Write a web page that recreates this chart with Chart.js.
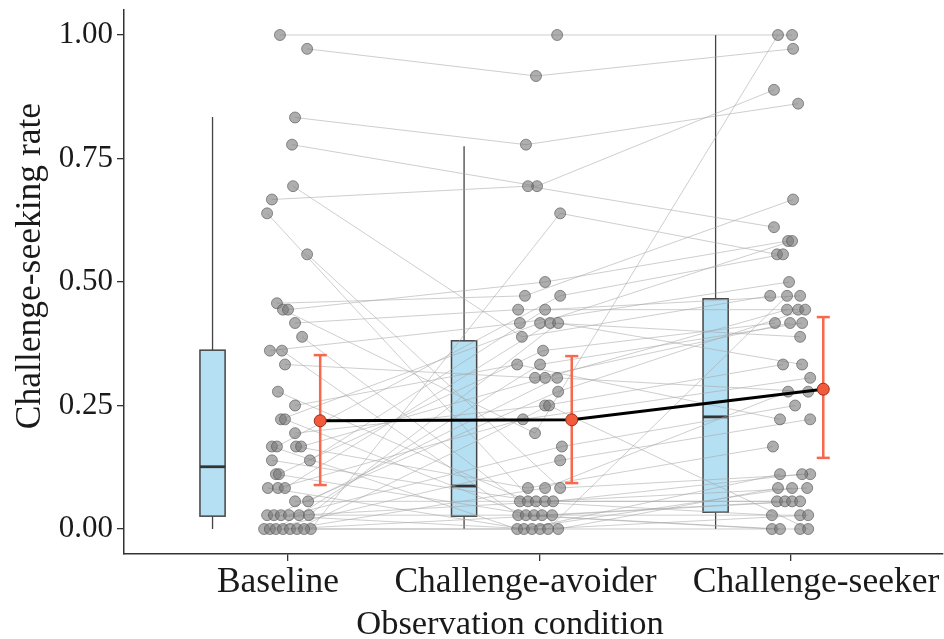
<!DOCTYPE html>
<html><head><meta charset="utf-8">
<script src="https://cdn.jsdelivr.net/npm/chart.js@4.4.1/dist/chart.umd.min.js"></script>
<style>html,body{margin:0;padding:0;background:#fff;overflow:hidden;}#wrap{width:944px;height:639px;}canvas{display:block;}</style>
</head><body><div id="wrap"><canvas id="c" width="944" height="639"></canvas></div>
<script>
const categories = ['Baseline', 'Challenge-avoider', 'Challenge-seeker'];
const yTicks = [0, 0.25, 0.5, 0.75, 1.0];
const yTitle = 'Challenge-seeking rate';
const xTitle = 'Observation condition';

// per-participant rates (same order in every condition)
const baselineValues = [1.000,0.972,0.833,0.778,0.667,0.694,0.639,0.556,0.000,0.457,0.444,0.444,0.417,0.389,0.361,0.361,0.333,0.278,0.250,0.222,0.222,0.194,0.167,0.167,0.167,0.167,0.139,0.139,0.111,0.111,0.083,0.083,0.083,0.056,0.056,0.028,0.028,0.028,0.028,0.028,0.028,0.000,0.000,0.000,0.000,0.000,0.000,0.000];
const avoiderValues  = [1.000,0.917,0.778,0.694,0.694,0.389,0.000,0.083,0.639,0.472,0.194,0.500,0.444,0.056,0.417,0.028,0.306,0.056,0.333,0.417,0.028,0.250,0.000,0.472,0.083,0.306,0.056,0.444,0.028,0.361,0.000,0.222,0.417,0.056,0.306,0.000,0.278,0.028,0.167,0.056,0.417,0.000,0.139,0.333,0.028,0.083,0.250,0.000];
const seekerValues   = [1.000,0.972,0.861,0.889,0.611,0.472,0.083,0.111,0.556,0.667,1.000,0.583,0.444,0.028,0.500,0.000,0.417,0.056,0.222,0.583,0.000,0.333,0.083,0.556,0.167,0.444,0.056,0.472,0.028,0.417,0.111,0.306,0.389,0.083,0.278,0.000,0.444,0.056,0.250,0.111,0.333,0.028,0.222,0.417,0.056,0.278,0.000,0.472];
// horizontal jitter of each point (axis units)
const baselineJitter = [-0.032,0.076,0.028,0.016,-0.064,0.020,-0.083,0.076,0.091,-0.044,-0.020,0.000,0.028,0.056,-0.072,-0.024,-0.012,-0.040,0.028,-0.028,-0.012,0.028,-0.064,-0.044,0.032,0.052,-0.064,0.087,-0.048,-0.036,-0.080,-0.040,-0.012,0.028,0.080,-0.083,-0.056,-0.028,0.004,0.044,0.083,-0.095,-0.072,-0.048,-0.020,0.008,0.036,0.064];
const avoiderJitter  = [0.070,-0.014,-0.054,-0.010,-0.046,-0.070,0.074,0.082,0.082,-0.058,-0.018,0.022,-0.085,-0.078,-0.078,-0.085,-0.018,-0.046,-0.089,0.002,-0.054,0.022,-0.089,0.082,-0.046,0.022,-0.014,0.022,-0.022,0.014,-0.062,-0.066,0.042,0.022,0.070,-0.030,0.074,0.010,0.089,0.054,0.074,0.002,0.082,0.002,0.050,0.022,0.038,0.034];
const seekerJitter   = [0.004,0.008,0.028,-0.068,-0.068,-0.083,-0.052,0.076,-0.056,0.008,-0.052,-0.012,0.028,-0.076,-0.008,-0.076,-0.004,-0.056,-0.044,0.004,-0.044,-0.032,0.004,-0.032,-0.072,-0.016,-0.024,0.036,0.036,-0.064,-0.044,0.076,0.036,0.064,0.068,0.036,0.056,0.004,0.016,0.044,0.044,0.068,0.076,0.044,0.036,-0.012,0.068,-0.016];

// boxplot statistics per condition
const boxLow    = [0.000, 0.000, 0.000];
const boxQ1     = [0.026, 0.026, 0.034];
const boxMedian = [0.126, 0.087, 0.227];
const boxQ3     = [0.362, 0.381, 0.466];
const boxHigh   = [0.834, 0.775, 1.000];
// mean and error bars per condition
const meanValues = [0.219, 0.221, 0.283];
const errLow     = [0.089, 0.093, 0.144];
const errHigh    = [0.352, 0.350, 0.429];

// layout (style) constants
const BOX_OFFSET = -0.30, BOX_HALF = 0.05, MEAN_OFFSET = 0.128, CAP_HALF = 0.026;
const SERIF = "'Liberation Serif', 'Times New Roman', serif";
const LABEL_SHIFT = [-10, -14, 25];

const valueSets = [baselineValues, avoiderValues, seekerValues];
const jitterSets = [baselineJitter, avoiderJitter, seekerJitter];

const datasets = [];
// participant connecting lines
for (let i = 0; i < baselineValues.length; i++) {
  datasets.push({type: 'line', data: valueSets.map((vals, k) => ({x: k + 1 + jitterSets[k][i], y: vals[i]})),
    borderColor: 'rgba(165,165,165,0.55)', borderWidth: 1, pointRadius: 0, fill: false, tension: 0, order: 10});
}
// participant points
valueSets.forEach((vals, k) => {
  datasets.push({type: 'scatter', data: vals.map((v, i) => ({x: k + 1 + jitterSets[k][i], y: v})),
    backgroundColor: 'rgba(120,120,120,0.6)', borderColor: 'rgba(80,80,80,0.6)', borderWidth: 1, pointRadius: 5.5, order: 6});
});
// mean line
datasets.push({type: 'line', data: meanValues.map((m, k) => ({x: k + 1 + MEAN_OFFSET, y: m})),
  borderColor: '#000', borderWidth: 3, pointRadius: 0, fill: false, order: 4});
// error bars with caps
meanValues.forEach((m, k) => {
  const xm = k + 1 + MEAN_OFFSET;
  const seg = (pts) => datasets.push({type: 'line', data: pts, borderColor: '#f7684c', borderWidth: 2.5, pointRadius: 0, fill: false, order: 3});
  seg([{x: xm, y: errLow[k]}, {x: xm, y: errHigh[k]}]);
  seg([{x: xm - CAP_HALF, y: errHigh[k]}, {x: xm + CAP_HALF, y: errHigh[k]}]);
  seg([{x: xm - CAP_HALF, y: errLow[k]}, {x: xm + CAP_HALF, y: errLow[k]}]);
});
// mean points
datasets.push({type: 'scatter', data: meanValues.map((m, k) => ({x: k + 1 + MEAN_OFFSET, y: m})),
  backgroundColor: '#f25a3c', borderColor: '#9c2f1c', borderWidth: 1, pointRadius: 6, order: 1});

const boxPlugin = {
  id: 'boxes',
  beforeDatasetsDraw(chart) {
    const {ctx, scales: {x, y}} = chart;
    ctx.save();
    for (let k = 0; k < categories.length; k++) {
      const cx = k + 1 + BOX_OFFSET;
      const px = x.getPixelForValue(cx);
      const x0 = x.getPixelForValue(cx - BOX_HALF), x1 = x.getPixelForValue(cx + BOX_HALF);
      const yq1 = y.getPixelForValue(boxQ1[k]), yq3 = y.getPixelForValue(boxQ3[k]);
      ctx.strokeStyle = '#444'; ctx.lineWidth = 1.3;
      ctx.beginPath();
      ctx.moveTo(px, y.getPixelForValue(boxHigh[k])); ctx.lineTo(px, yq3);
      ctx.moveTo(px, yq1); ctx.lineTo(px, y.getPixelForValue(boxLow[k]));
      ctx.stroke();
      ctx.fillStyle = '#b5dff2';
      ctx.fillRect(x0, yq3, x1 - x0, yq1 - yq3);
      ctx.lineWidth = 1.5;
      ctx.strokeRect(x0, yq3, x1 - x0, yq1 - yq3);
      ctx.lineWidth = 2.8; ctx.strokeStyle = '#333';
      const ym = y.getPixelForValue(boxMedian[k]);
      ctx.beginPath(); ctx.moveTo(x0, ym); ctx.lineTo(x1, ym); ctx.stroke();
    }
    ctx.restore();
  },
  afterDraw(chart) {
    const {ctx, chartArea, scales: {x}} = chart;
    ctx.save();
    ctx.fillStyle = '#1a1a1a';
    ctx.textAlign = 'center';
    ctx.textBaseline = 'alphabetic';
    ctx.font = '35.5px ' + SERIF;
    categories.forEach((c, k) => {
      ctx.fillText(c, x.getPixelForValue(k + 1) + LABEL_SHIFT[k], chartArea.bottom + 38);
    });
    ctx.font = '34.5px ' + SERIF;
    ctx.fillText(xTitle, 510, chartArea.bottom + 80);
    ctx.translate(40, (chartArea.top + chartArea.bottom) / 2 - 16);
    ctx.rotate(-Math.PI / 2);
    ctx.font = '35.5px ' + SERIF;
    ctx.fillText(yTitle, 0, 0);
    ctx.restore();
  }
};

Chart.defaults.color = '#1a1a1a';
new Chart(document.getElementById('c'), {
  type: 'scatter',
  data: {datasets},
  plugins: [boxPlugin],
  options: {
    responsive: false, animation: false, devicePixelRatio: 1,
    layout: {autoPadding: false, padding: {top: 10, right: 1, bottom: 0, left: 0}},
    plugins: {legend: {display: false}, tooltip: {enabled: false}},
    scales: {
      x: {
        type: 'linear', min: 0.348, max: 3.604,
        afterBuildTicks: (s) => { s.ticks = categories.map((c, k) => ({value: k + 1})); },
        afterFit: (s) => { s.height = 85; s.paddingLeft = 0; s.paddingRight = 0; },
        ticks: {autoSkip: false, callback: () => ''},
        grid: {display: true, drawOnChartArea: false, drawTicks: true, tickLength: 7, color: '#333', lineWidth: 1.3},
        border: {display: true, color: '#333', width: 1.5}
      },
      y: {
        type: 'linear', min: -0.0506, max: 1.0506,
        afterBuildTicks: (s) => { s.ticks = yTicks.map(v => ({value: v})); },
        afterFit: (s) => { s.width = 124; s.paddingTop = 0; s.paddingBottom = 0; },
        ticks: {autoSkip: false, padding: 4, font: {family: SERIF, size: 31}, color: '#1a1a1a', callback: (v) => Number(v).toFixed(2)},
        grid: {display: true, drawOnChartArea: false, drawTicks: true, tickLength: 7, color: '#333', lineWidth: 1.3},
        border: {display: true, color: '#333', width: 1.5}
      }
    }
  }
});
</script></body></html>
